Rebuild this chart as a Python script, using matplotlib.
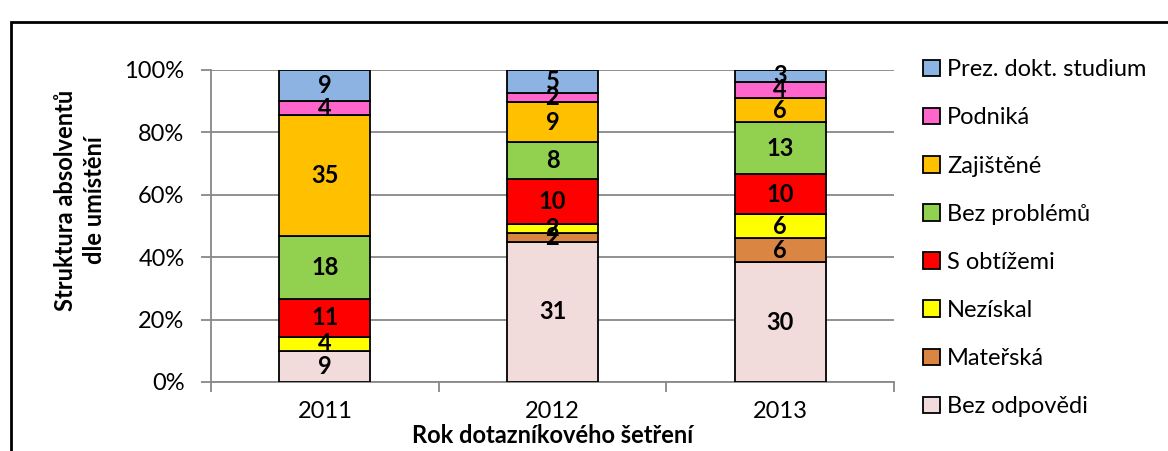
import numpy as np
import matplotlib
import matplotlib.pyplot as plt
from matplotlib.patches import Patch, Rectangle

matplotlib.use('agg')

plt.rcParams['font.family'] = ['Lato', 'DejaVu Sans']

years = ['2011', '2012', '2013']
# stacked bottom -> top
categories = ['Bez odpovědi', 'Mateřská', 'Nezískal', 'S obtížemi',
              'Bez problémů', 'Zajištěné', 'Podniká', 'Prez. dokt. studium']
counts = {
    'Bez odpovědi':        [9, 31, 30],
    'Mateřská':            [0, 2, 6],
    'Nezískal':            [4, 2, 6],
    'S obtížemi':          [11, 10, 10],
    'Bez problémů':        [18, 8, 13],
    'Zajištěné':           [35, 9, 6],
    'Podniká':             [4, 2, 4],
    'Prez. dokt. studium': [9, 5, 3],
}
colors = {
    'Bez odpovědi':        '#F2DCDB',
    'Mateřská':            '#DA8642',
    'Nezískal':            '#FFFF00',
    'S obtížemi':          '#FF0000',
    'Bez problémů':        '#92D050',
    'Zajištěné':           '#FFC000',
    'Podniká':             '#FF66CC',
    'Prez. dokt. studium': '#8DB3E2',
}

fs = 17

fig = plt.figure(figsize=[11.68, 4.51], dpi=100)
ax = fig.add_axes([211/1168, 1-382/451, (894-211)/1168, (382-70)/451])

x = np.arange(len(years))
totals = np.sum([counts[c] for c in categories], axis=0)
bottom = np.zeros(len(years))
for cat in categories:
    vals = np.array(counts[cat], dtype=float)
    share = vals/totals
    ax.bar(x, share, bottom=bottom, width=0.4, color=colors[cat],
           edgecolor='black', linewidth=1.3, zorder=3)
    for xi, v, s, b in zip(x, vals, share, bottom):
        if v > 0:
            ax.text(xi, b+s/2, f"{int(v)}", ha='center', va='center',
                    fontsize=fs, fontweight='bold', zorder=4)
    bottom += share

ax.set_xlim(-0.5, 2.5)
ax.set_ylim(0, 1)
ax.set_yticks(np.arange(0, 1.01, 0.2))
ax.set_yticklabels([f"{int(round(v*100))}%" for v in np.arange(0, 1.01, 0.2)], fontsize=fs)
ax.set_xticks(x)
ax.set_xticklabels(years, fontsize=fs)
ax.set_xticks([-0.5, 0.5, 1.5, 2.5], minor=True)
ax.tick_params(axis='x', which='major', length=0, pad=14)
ax.tick_params(axis='x', which='minor', length=7, width=1.3, color='#888888')
ax.tick_params(axis='y', length=7, width=1.3, color='#888888', pad=12)
ax.grid(axis='y', color='#888888', linewidth=1.3, zorder=0)
for s in ['top', 'right']:
    ax.spines[s].set_visible(False)
for s in ['left', 'bottom']:
    ax.spines[s].set_color('#888888')
    ax.spines[s].set_linewidth(1.3)

ax.set_xlabel("Rok dotazníkového šetření", fontsize=fs, fontweight='bold', labelpad=1)
fig.text(80/1168, 1-200/451, "Struktura absolventů\ndle umístění", rotation=90,
         ha='center', va='center', fontsize=fs, fontweight='bold', linespacing=1.3)

handles = [Patch(facecolor=colors[c], edgecolor='black', linewidth=1.3) for c in categories[::-1]]
fig.legend(handles, categories[::-1], loc='upper left',
           bbox_to_anchor=(902/1168, 1-38/451), frameon=False, fontsize=fs,
           handlelength=0.7, handleheight=0.7, handletextpad=0.3, labelspacing=1.15)

fig.patches.append(Rectangle((11/1168, -0.05), 1.1, 0.05+1-22/451, transform=fig.transFigure,
                             fill=False, edgecolor='black', linewidth=2, zorder=10))

plt.savefig("out.png")
